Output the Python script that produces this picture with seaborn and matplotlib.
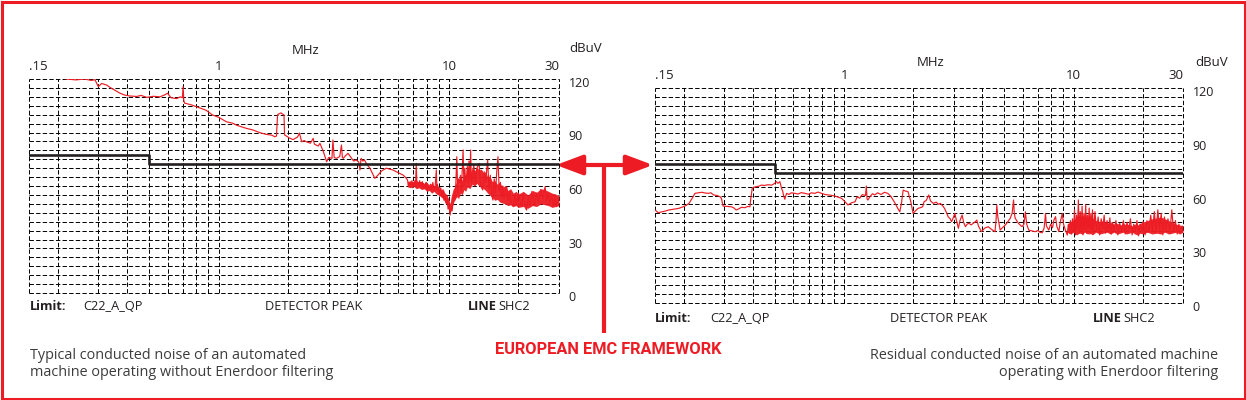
import numpy as np
import matplotlib
matplotlib.use("Agg")
import matplotlib.pyplot as plt
import seaborn as sns
from matplotlib.patches import FancyArrowPatch, Rectangle
from matplotlib.lines import Line2D
from matplotlib.ticker import NullLocator, NullFormatter
from matplotlib.transforms import ScaledTranslation

# ---------------- data ----------------
left_freq = [0.15, 0.2, 0.217, 0.24, 0.26, 0.28, 0.29, 0.3, 0.31, 0.326, 0.34, 0.373, 0.39, 0.41, 0.44,
             0.46, 0.487, 0.52, 0.555, 0.58, 0.6, 0.62, 0.657, 0.68, 0.695, 0.7, 0.705, 0.71, 0.76, 0.83,
             0.88, 0.94, 1.0, 1.08, 1.15, 1.2, 1.32, 1.4, 1.51, 1.6, 1.7, 1.75, 1.78, 1.8, 1.86, 1.92,
             1.93, 1.98, 2.02, 2.1, 2.2, 2.24, 2.29, 2.35, 2.4, 2.5, 2.57, 2.6, 2.7, 2.75, 2.85, 2.94,
             3.0, 3.1, 3.13, 3.17, 3.24, 3.35, 3.41, 3.44, 3.47, 3.55, 3.64, 3.75, 3.85, 3.95, 4.05, 4.1,
             4.13, 4.15, 4.22, 4.29, 4.4, 4.53, 4.65, 4.76, 4.92, 5.1, 5.34, 5.5, 5.7, 6.0, 6.3, 6.45,
             6.6, 6.65, 6.7, 6.75, 6.8, 6.85, 6.9, 6.95, 7.0, 7.05, 7.1, 7.15, 7.2, 7.25, 7.3, 7.35, 7.4,
             7.45, 7.5, 7.55, 7.6, 7.65, 7.7, 7.75, 7.8, 7.85, 7.9, 7.95, 8.0, 8.05, 8.1, 8.15, 8.2, 8.3,
             8.4, 8.5, 8.6, 8.7, 8.8, 8.85, 8.9, 9.0, 9.1, 9.2, 9.3, 9.4, 9.5, 9.6, 9.7, 9.8, 9.9, 10.0,
             10.1, 10.2, 10.3, 10.4, 10.5, 10.6, 10.7, 10.8, 10.9, 11.0, 11.1, 11.2, 11.3, 11.4, 11.5,
             11.6, 11.7, 11.8, 11.9, 12.0, 12.1, 12.2, 12.3, 12.4, 12.5, 12.6, 12.8, 13.0, 13.2, 13.5,
             13.7, 14.0, 14.2, 14.4, 14.7, 14.9, 15.1, 15.3, 15.5, 15.7, 15.9, 16.1, 16.3, 16.5, 16.7,
             16.9, 17.1, 17.3, 17.6, 17.8, 18.0, 18.3, 18.6, 19.0, 19.3, 19.6, 20.0, 20.3, 20.7, 21.0,
             21.4, 21.7, 22.1, 22.5, 22.9, 23.2, 23.6, 24.0, 24.5, 25.0, 25.5, 26.1, 26.5, 27.0, 27.4,
             27.9, 28.4, 28.8, 29.3, 29.7, 30.0]
left_level = [126, 122, 120, 119.5, 120, 119.2, 119.6, 115.7, 117.5, 116.6, 115, 112, 111, 110.5, 110.2,
              110.8, 109.7, 110.3, 110, 111, 112, 109.5, 109, 110, 109.5, 115.7, 108, 106.5, 105.5, 103.7,
              102.5, 99.8, 98.5, 96, 95.2, 94, 92.3, 91.5, 89.9, 89, 88.5, 87.6, 88, 100, 101, 99.8,
              88.6, 87.8, 87, 86, 87.5, 89.7, 84.8, 85.5, 84.8, 84, 86.7, 83.5, 82.4, 83.9, 79, 73.6,
              76, 75.5, 85.8, 76, 75.5, 76.5, 83, 76, 75.5, 77, 78.3, 76, 74, 74.6, 73.5, 69,
              73, 75.5, 74, 74.6, 72, 70, 67, 64.3, 66.2, 68.5, 70, 69.5, 69, 67.5, 66.2, 65,
              63.4, 60, 62, 59.6, 61.5, 60, 63, 59, 62, 60.5, 63, 60, 72.7, 60, 59, 62, 60,
              63, 59.5, 62, 60, 62.4, 59, 61.5, 58.5, 61, 59, 62, 58, 60.5, 57.5, 60, 57.8, 61,
              58, 62, 57.5, 60, 69, 58, 61, 57, 56.8, 59, 54, 57, 52, 55, 50.3, 53, 47, 49,
              43.7, 48, 46, 50.3, 55, 52, 62, 76.4, 56, 64, 61.5, 66, 57, 68, 80.2,
              60, 70, 62, 65.2, 71, 61, 74, 63, 80.2, 62, 63.4, 72, 61, 70, 72.7,
              60, 57.8, 68, 62, 74.6, 58, 66, 55, 52.1, 64, 56, 68, 76.4, 57, 62,
              54, 60, 53, 58, 59.6, 52, 57, 50, 48.4, 55, 50, 56, 52.1, 49, 56,
              48, 46.5, 54, 49, 57, 52, 49, 56, 51, 58, 53, 59.6, 52, 56, 50.3,
              55, 49, 54, 48.4, 53, 51]

# dense noise envelope of the left trace (lower / upper edge of the solid red band)
left_band_freq = [6.6, 6.8, 7.0, 7.2, 7.4, 7.6, 7.8, 8.0, 8.2, 8.4, 8.6, 8.8, 9.0, 9.2, 9.4, 9.6, 9.8,
                  10.0, 10.1, 10.2, 10.4, 10.6, 10.8, 11.0, 11.2, 11.4, 11.6, 11.8, 12.0, 12.3, 12.6,
                  12.9, 13.2, 13.5, 13.8, 14.1, 14.4, 14.7, 15.0, 15.4, 15.8, 16.2, 16.6, 17.0, 17.5,
                  18.0, 18.5, 19.0, 19.5, 20.0, 21.0, 22.0, 23.0, 24.0, 25.0, 26.0, 27.0, 28.0, 29.0, 30.0]
left_band_low = [59.5, 59, 60, 58.5, 59, 58, 58.5, 57, 57.5, 56, 57, 55.5, 55, 54, 53, 51, 49,
                 46.5, 44.5, 47, 50, 52.5, 54, 53, 56, 55, 58, 57, 59.5, 58.5, 61,
                 60, 61.5, 60, 59.5, 58.5, 57.5, 56, 55, 53.5, 52, 52.5, 51, 50.5, 50,
                 49, 49.5, 48.5, 49, 48, 48.5, 47.5, 49, 48.5, 50, 49.5, 49, 48, 48.5, 49]
left_band_high = [62.5, 63, 62, 63.5, 61.5, 62.5, 61, 62, 60.5, 61.5, 60, 61, 59.5, 58, 58.5, 56, 55,
                  52, 50, 54, 58, 60, 63, 61, 65, 63, 67, 65.5, 68.5, 67, 70,
                  68.5, 70.5, 69, 69.5, 67.5, 68, 65, 65.5, 62.5, 63, 61, 62, 59.5, 60,
                  57.5, 58.5, 56, 57, 55.5, 57, 55, 57.5, 56.5, 58.5, 58, 57, 56, 55.5, 54.5]

right_freq = [0.15, 0.155, 0.16, 0.165, 0.172, 0.18, 0.19, 0.199, 0.205, 0.211, 0.218, 0.224, 0.232,
              0.24, 0.248, 0.256, 0.263, 0.27, 0.28, 0.288, 0.292, 0.297, 0.31, 0.323, 0.33, 0.339,
              0.348, 0.357, 0.37, 0.38, 0.389, 0.392, 0.398, 0.41, 0.425, 0.436, 0.45, 0.465, 0.484,
              0.495, 0.507, 0.515, 0.525, 0.534, 0.54, 0.545, 0.552, 0.556, 0.562, 0.575, 0.59, 0.611,
              0.63, 0.65, 0.676, 0.7, 0.72, 0.745, 0.77, 0.797, 0.83, 0.87, 0.913, 0.945, 0.976, 1.01,
              1.04, 1.08, 1.117, 1.14, 1.17, 1.2, 1.24, 1.25, 1.26, 1.27, 1.3, 1.33, 1.36, 1.4, 1.45,
              1.5, 1.55, 1.6, 1.67, 1.72, 1.75, 1.78, 1.81, 1.85, 1.9, 1.95, 2.0, 2.05, 2.1, 2.15,
              2.2, 2.23, 2.28, 2.34, 2.38, 2.45, 2.52, 2.58, 2.63, 2.7, 2.74, 2.8, 2.84, 2.9, 2.94,
              2.99, 3.04, 3.09, 3.15, 3.2, 3.27, 3.32, 3.38, 3.44, 3.5, 3.58, 3.66, 3.72, 3.79, 3.85,
              3.97, 4.1, 4.25, 4.4, 4.55, 4.6, 4.63, 4.68, 4.79, 4.9, 5.04, 5.15, 5.3, 5.4, 5.48,
              5.52, 5.57, 5.75, 5.96, 6.08, 6.17, 6.25, 6.38, 6.6, 6.81, 7.0, 7.15, 7.3, 7.45, 7.55,
              7.62, 7.8, 7.95, 8.1, 8.2, 8.35, 8.45, 8.63, 8.75, 8.93, 9.05, 9.2, 9.39, 9.5, 9.6,
              9.7, 9.8, 9.9, 10.0, 10.1, 10.2, 10.3, 10.4, 10.5, 10.6, 10.7, 10.8, 10.9, 11.0, 11.1,
              11.2, 11.3, 11.4, 11.5, 11.6, 11.7, 11.8, 11.9, 12.0, 12.1, 12.2, 12.4, 12.6, 12.8,
              13.0, 13.2, 13.4, 13.6, 13.8, 14.0, 14.2, 14.4, 14.6, 14.8, 15.0, 15.3, 15.6, 15.9,
              16.2, 16.5, 16.8, 17.1, 17.4, 17.7, 18.0, 18.3, 18.6, 18.9, 19.2, 19.5, 19.8, 20.1,
              20.5, 20.9, 21.3, 21.7, 22.1, 22.5, 22.9, 23.3, 23.7, 24.1, 24.5, 24.9, 25.3, 25.8,
              26.3, 26.8, 27.3, 27.8, 28.3, 28.8, 29.3, 29.7, 30.0]
right_level = [51.9, 50.4, 50.8, 51.2, 51.9, 52.3, 52.8, 53.7, 54.5, 55.6, 58.5, 61.2, 61.5,
               61.8, 61.4, 61.2, 61.5, 60.3, 60.0, 59.3, 58.5, 54.1, 53.9, 53.7, 53.2, 51.9,
               52.6, 53.4, 53.2, 53.9, 53.7, 58, 64, 64.8, 65.2, 65.8, 65.6, 66, 65.8,
               66.5, 67.7, 66.8, 67.7, 64, 62.5, 60, 57.9, 59.5, 61.2, 60.6, 61.5, 61.2,
               60.8, 61.6, 61.2, 60.7, 61.5, 61.2, 61.9, 61.2, 60.5, 60.2, 59.7, 59, 58.4, 56.5,
               54.7, 56, 56.5, 59.3, 58.5, 60.5, 60, 65.3, 58, 57.5, 59.5, 61, 60.3, 61.5, 60.6,
               61.8, 61.2, 59.5, 55.6, 52.5, 50.9, 56, 63, 62.5, 62.1, 57, 50, 51.5, 52.8, 53.2,
               53.7, 56.5, 57.2, 60.3, 57, 55.6, 56.3, 55.1, 55.6, 54, 52.8, 50.2, 48.2, 47, 45.4,
               47.5, 50, 46, 41.7, 46, 49.1, 45, 42.6, 44, 44.5, 43.6, 44.5, 45.2, 46.3, 43,
               39.8, 41.8, 42.6, 41, 39.8, 47, 54.7, 48, 40.7, 42, 43.5, 45, 47.3, 50, 57.5,
               50, 47.3, 44.5, 42.6, 44, 50.9, 44, 40.7, 40.2, 39.8, 40.5, 39.4, 39.2, 42, 50,
               43, 40.7, 44, 42, 46, 48.2, 43, 39.8, 45, 50, 44, 41, 37.9, 44, 39,
               46, 38.5, 47, 40, 52, 38, 49, 41, 57.5, 39, 51, 40, 54, 38, 50,
               41, 55, 39, 49, 42, 53, 38.5, 50, 41, 52, 39, 51, 40, 48,
               38, 47, 41, 49, 39, 46, 40, 47.5, 38.5, 45, 40.5, 46, 38, 44.5,
               40, 46, 38.5, 45, 41, 47, 38, 44, 40, 46, 37.5, 44, 40, 45.5,
               38, 46, 39.5, 49, 40, 51, 39, 52, 41, 50, 38, 48, 40.5, 47,
               39, 52, 40, 46, 38.5, 44, 39.5, 43, 40]

# dense noise envelope of the right trace
right_band_freq = [9.4, 9.7, 10.0, 10.3, 10.6, 10.9, 11.2, 11.5, 11.8, 12.1, 12.5, 13.0, 13.5, 14.0,
                   14.5, 15.0, 15.5, 16.0, 16.5, 17.0, 17.5, 18.0, 18.5, 19.0, 19.5, 20.0, 21.0, 22.0,
                   23.0, 24.0, 25.0, 26.0, 27.0, 28.0, 29.0, 30.0]
right_band_low = [39.5, 38.5, 39.5, 38, 39, 38.5, 39.5, 38.5, 39, 38, 39.5, 38.5, 39, 39.5,
                  38.5, 39.5, 38.5, 39, 39.5, 38.5, 39, 39.5, 38.5, 38, 39, 38.5, 39.5, 38.5,
                  39, 38.5, 39.5, 38.5, 39, 39.5, 38.5, 39.5]
right_band_high = [44, 45.5, 46, 48, 47, 49, 47.5, 48.5, 46.5, 47.5, 46, 45.5, 46, 44.5,
                   45, 44, 44.5, 43.5, 44.5, 43.5, 44, 43, 44, 43.5, 44.5, 45, 46, 47,
                   47.5, 48, 47, 46, 45, 44, 43.5, 43]

limit_freq = [0.15, 0.5, 30]
limit_level = [77.5, 72.5, 72.5]

x_tick_values = [0.15, 1, 10, 30]
x_tick_labels = [".15", "1", "10", "30"]
y_tick_values = [0, 30, 60, 90, 120]
y_tick_labels = ["0", "30", "60", "90", "120"]

captions = ["Typical conducted noise of an automated\nmachine operating without Enerdoor filtering",
            "Residual conducted noise of an automated machine\noperating with Enerdoor filtering"]
center_title = "EUROPEAN EMC FRAMEWORK"

# ---------------- styling ----------------
sns.set_theme(style="white")
plt.rcParams["font.family"] = ["Open Sans", "DejaVu Sans"]
RED = "#ed1c24"
INK = "#231f20"
GREY = "#3c3c3c"

W, H = 1246, 400
fig = plt.figure(figsize=(W / 100, H / 100), dpi=100)
fig.patch.set_facecolor("white")


def fx(x):
    return x / W


def fy(y):
    return 1 - y / H


grid_x = [0.15, 0.2, 0.3, 0.4, 0.5, 0.6, 0.7, 0.8, 0.9, 1, 2, 3, 4, 5, 6, 7, 8, 9, 10, 20, 30]
grid_y = np.arange(0, 121, 5)
dash = (0, (4.5, 2.3))

panels = [
    dict(box=(29, 79, 559, 293), freq=left_freq, level=left_level,
         band=(left_band_freq, left_band_low, left_band_high),
         mhz=(306, 50), dbuv=(569, 48), foot_y=307,
         foot=[(30, "Limit:", "bold"), (83, "C22_A_QP", "normal"), (265, "DETECTOR PEAK", "normal"),
               (468, "LINE", "bold"), (498, "SHC2", "normal")]),
    dict(box=(655, 88, 1183, 303), freq=right_freq, level=right_level,
         band=(right_band_freq, right_band_low, right_band_high),
         mhz=(931, 63), dbuv=(1195, 63), foot_y=318,
         foot=[(655, "Limit:", "bold"), (710, "C22_A_QP", "normal"), (890, "DETECTOR PEAK", "normal"),
               (1093, "LINE", "bold"), (1123, "SHC2", "normal")]),
]

down3 = ScaledTranslation(0, -3 / 100, fig.dpi_scale_trans)

for p in panels:
    x0, y0, x1, y1 = p["box"]
    ax = fig.add_axes([fx(x0), fy(y1), (x1 - x0) / W, (y1 - y0) / H])
    ax.set_facecolor("none")
    ax.set_xscale("log")
    ax.set_xlim(0.15, 30)
    ax.set_ylim(0, 120)
    for s in ax.spines.values():
        s.set_visible(False)
    ax.vlines(grid_x, 0, 120, colors="black", linestyles=dash, lw=0.7, clip_on=False, zorder=1)
    ax.hlines(grid_y, 0.15, 30, colors="black", linestyles=dash, lw=0.7, clip_on=False, zorder=1)

    bf, bl, bh = p["band"]
    ax.fill_between(bf, bl, bh, color=RED, lw=0, alpha=0.95, zorder=2)
    sns.lineplot(x=p["freq"], y=p["level"], ax=ax, color=RED, lw=0.85, sort=False,
                 estimator=None, zorder=3)
    sns.lineplot(x=limit_freq, y=limit_level, ax=ax, color=INK, lw=1.9, sort=False,
                 estimator=None, drawstyle="steps-post", zorder=4)

    ax.xaxis.tick_top()
    ax.set_xticks(x_tick_values)
    ax.set_xticklabels(x_tick_labels)
    ax.xaxis.set_minor_locator(NullLocator())
    ax.xaxis.set_minor_formatter(NullFormatter())
    ax.yaxis.tick_right()
    ax.set_yticks(y_tick_values)
    ax.set_yticklabels(y_tick_labels)
    ax.tick_params(axis="x", length=0, pad=4, labelsize=9.5, colors=INK)
    ax.tick_params(axis="y", length=0, pad=7, labelsize=9, colors=INK)
    lbls = ax.get_xticklabels()
    lbls[0].set_ha("left")
    lbls[-1].set_ha("right")
    for lab in ax.get_yticklabels():
        lab.set_transform(lab.get_transform() + down3)
    ax.set_xlabel("")
    ax.set_ylabel("")

    fig.text(fx(p["mhz"][0]), fy(p["mhz"][1]), "MHz", ha="center", va="center", fontsize=9.5, color=INK)
    fig.text(fx(p["dbuv"][0]), fy(p["dbuv"][1]), "dBuV", ha="left", va="center", fontsize=9.5, color=INK)
    for (xx, t, wgt) in p["foot"]:
        fig.text(fx(xx), fy(p["foot_y"]), t, ha="left", va="center", fontsize=9.2,
                 fontweight=wgt, color=INK)

# captions
fig.text(fx(30), fy(364), captions[0], ha="left", va="center", fontsize=10.4, color=GREY, linespacing=1.25)
fig.text(fx(1218), fy(364), captions[1], ha="right", va="center", fontsize=10.4, color=GREY,
         linespacing=1.25, multialignment="right")

# centre title
fig.text(fx(608), fy(349), center_title, ha="center", va="center", fontsize=11.8,
         fontweight="bold", color=RED, family=["Roboto", "DejaVu Sans"])

# double arrow + stem
arr = FancyArrowPatch((fx(556), fy(165)), (fx(653), fy(165)), transform=fig.transFigure,
                      arrowstyle="<|-|>,head_length=1.6,head_width=0.6", mutation_scale=10,
                      color=RED, lw=3, shrinkA=0, shrinkB=0)
fig.patches.append(arr)
fig.lines.append(Line2D([fx(604), fx(604)], [fy(165), fy(333)], transform=fig.transFigure,
                        color=RED, lw=3, solid_capstyle="butt"))

# outer red frame
fig.patches.append(Rectangle((fx(1.5), fy(398.5)), (W - 3) / W, (H - 3) / H, transform=fig.transFigure,
                             fill=False, edgecolor=RED, lw=2.2))

fig.savefig("out.png", dpi=100, facecolor="white")
